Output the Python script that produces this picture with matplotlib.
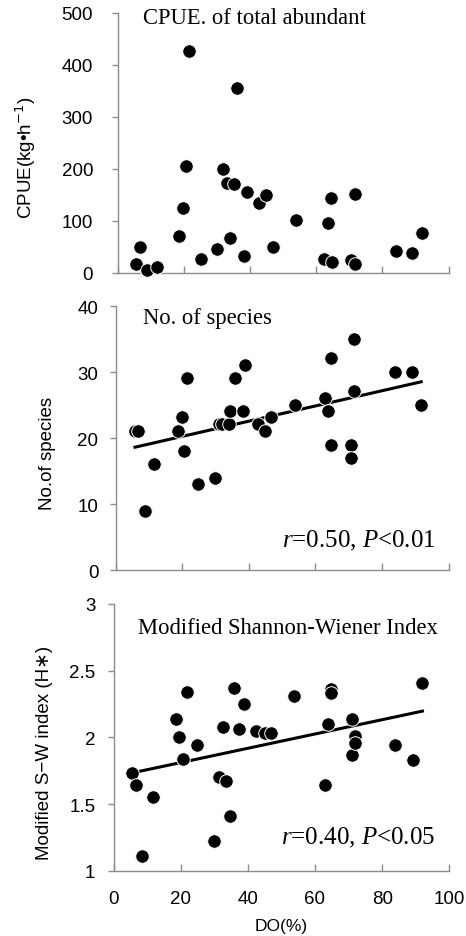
import numpy as np
import matplotlib
matplotlib.use("Agg")
import matplotlib.pyplot as plt

# DO(%) and CPUE (kg/h)
do_cpue = [5.6, 6.9, 8.9, 11.9, 18.6, 19.7, 20.7, 21.7, 25.1, 30.0, 32.0, 33.1, 35.1,
           33.9, 36.0, 38.1, 39.0, 42.9, 44.9, 47.0, 53.8, 63.7, 64.6, 62.5, 64.8,
           70.6, 71.9, 71.9, 84.0, 89.1, 92.0]
cpue = [17, 49, 5, 11, 70, 124, 205, 426, 26, 45, 199, 173, 170,
        67, 355, 33, 155, 134, 149, 49, 102, 95, 143, 27, 21,
        24, 17, 152, 42, 39, 77]

# DO(%) and number of species
do_sp = [5.8, 6.8, 8.7, 11.5, 18.8, 19.8, 20.5, 21.5, 24.7, 29.9, 31.0, 32.0, 34.0,
         34.4, 35.7, 38.2, 38.9, 42.9, 44.9, 46.7, 53.9, 63.0, 63.9, 64.7, 64.7,
         70.6, 70.6, 71.6, 71.6, 84.0, 89.0, 91.8]
species = [21.1, 21.1, 9.0, 16.1, 21.1, 23.2, 18.1, 29.1, 13.1, 14.0, 22.1, 22.1, 22.1,
           24.1, 29.1, 24.1, 31.1, 22.1, 21.1, 23.2, 25.1, 26.1, 24.1, 32.1, 19.0,
           19.0, 17.0, 27.1, 35.1, 30.1, 30.1, 25.1]

# DO(%) and modified Shannon-Wiener index
do_h = [5.5, 6.8, 8.6, 11.8, 18.5, 19.5, 20.6, 21.8, 24.9, 29.9, 31.5, 32.5, 33.5,
        34.7, 35.9, 37.5, 39.0, 42.5, 45.0, 46.9, 53.8, 62.9, 63.9, 64.8, 64.8,
        70.9, 70.9, 71.9, 71.9, 83.8, 89.1, 92.0]
h_index = [1.73, 1.64, 1.11, 1.55, 2.14, 2.00, 1.84, 2.34, 1.94, 1.22, 1.70, 2.08, 1.67,
           1.41, 2.37, 2.06, 2.25, 2.05, 2.03, 2.03, 2.31, 1.64, 2.10, 2.36, 2.33,
           2.14, 1.87, 2.01, 1.96, 1.94, 1.83, 2.41]

plt.rcParams["font.family"] = ["Liberation Sans", "DejaVu Sans"]
plt.rcParams["xtick.labelsize"] = 13.5
plt.rcParams["ytick.labelsize"] = 13.5
plt.rcParams["mathtext.fontset"] = "custom"
plt.rcParams["mathtext.it"] = "Liberation Serif:italic"
plt.rcParams["mathtext.rm"] = "Liberation Serif"

W, H = 466, 937
fig = plt.figure(figsize=(W / 100, H / 100), dpi=100)

serif = ["Liberation Serif", "DejaVu Serif"]
grey = "#8c8c8c"


def make_ax(left, right, top, bottom, ypad):
    ax = fig.add_axes([left / W, 1 - bottom / H, (right - left) / W, (bottom - top) / H])
    for s in ["top", "right"]:
        ax.spines[s].set_visible(False)
    for s in ["left", "bottom"]:
        ax.spines[s].set_color(grey)
        ax.spines[s].set_linewidth(1.0)
    ax.tick_params(axis="y", direction="out", length=4, color=grey, width=1.0, pad=ypad)
    ax.tick_params(axis="x", direction="in", length=5, color=grey, width=1.0, pad=14)
    ax.set_xlim(0, 100)
    ax.set_xticks([0, 20, 40, 60, 80, 100])
    return ax


def dots(ax, x, y):
    ax.scatter(x, y, s=95, color="black", edgecolors="white", linewidths=0.7,
               zorder=3, clip_on=False)


def fit_line(ax, x, y):
    k, b = np.polyfit(x, y, 1)
    xs = np.array([min(x), max(x)])
    ax.plot(xs, k * xs + b, color="black", lw=2.2, zorder=2)


# panel 1
ax1 = make_ax(117.5, 448.5, 14, 273.8, 13.5)
dots(ax1, do_cpue, cpue)
ax1.set_ylim(0, 500)
ax1.set_yticks([0, 100, 200, 300, 400, 500])
ax1.set_xticklabels([])
ax1.set_ylabel("CPUE(kg\u2022h$^{\\mathsf{-1}}$)", fontsize=13.5)
ax1.yaxis.set_label_coords(-0.24, 0.447)
ax1.text(0.077, 0.981, "CPUE. of total abundant", transform=ax1.transAxes,
         family=serif, fontsize=16.3, ha="left", va="center")

# panel 2
ax2 = make_ax(115.7, 448.5, 307.3, 571, 8.5)
fit_line(ax2, do_sp, species)
dots(ax2, do_sp, species)
ax2.set_ylim(0, 40)
ax2.set_yticks([0, 10, 20, 30, 40])
ax2.set_xticklabels([])
ax2.set_ylabel("No.of species", fontsize=13.5)
ax2.yaxis.set_label_coords(-0.18, 0.447)
ax2.text(0.081, 0.958, "No. of species", transform=ax2.transAxes,
         family=serif, fontsize=16.3, ha="left", va="center")
ax2.text(0.96, 0.115, "$\\it{r}$=0.50, $\\it{P}$<0.01", transform=ax2.transAxes,
         family=serif, fontsize=18, ha="right", va="center")

# panel 3
ax3 = make_ax(113.5, 449.3, 605, 871.7, 9)
fit_line(ax3, do_h, h_index)
dots(ax3, do_h, h_index)
ax3.set_ylim(1, 3)
ax3.set_yticks([1, 1.5, 2, 2.5, 3])
ax3.set_yticklabels(["1", "1.5", "2", "2.5", "3"])
ax3.set_ylabel("Modified S\u2212W index (H\u2217)", fontsize=13.5)
ax3.yaxis.set_label_coords(-0.179, 0.447)
ax3.set_xlabel("DO(%)", fontsize=12.5, labelpad=7.5)
ax3.text(0.073, 0.913, "Modified Shannon-Wiener Index", transform=ax3.transAxes,
         family=serif, fontsize=16.3, ha="left", va="center")
ax3.text(0.957, 0.125, "$\\it{r}$=0.40, $\\it{P}$<0.05", transform=ax3.transAxes,
         family=serif, fontsize=18, ha="right", va="center")

fig.savefig("out.png", dpi=100)
